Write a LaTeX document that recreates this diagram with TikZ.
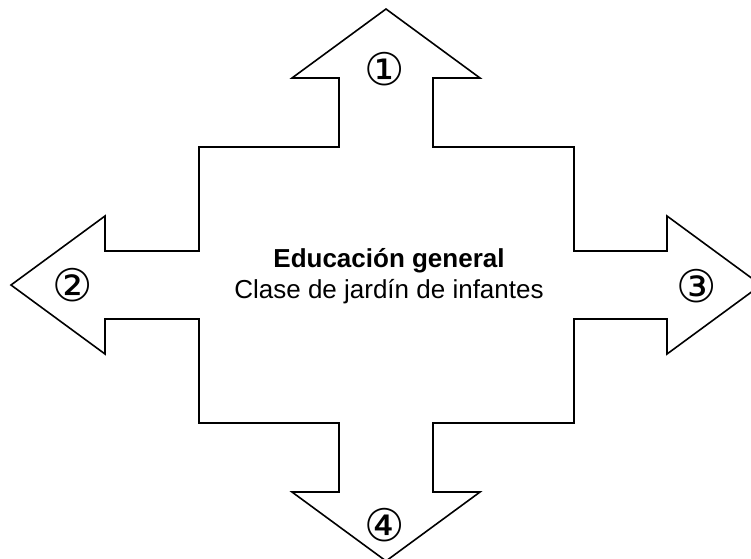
\documentclass[tikz,border=0pt]{standalone}
\usepackage{fontspec}
\setmainfont{Liberation Sans}
\newfontfamily\dejavu{DejaVu Sans}
\begin{document}
\begin{tikzpicture}[x=1pt,y=-1pt,
  outline/.style={draw=black,line width=1.6pt,line join=miter,fill=white},
  numlabel/.style={inner sep=0pt,anchor=center,font=\dejavu\fontsize{45}{45}\selectfont},
  titlelabel/.style={inner sep=0pt,anchor=base,font=\bfseries\fontsize{26}{31}\selectfont},
  sublabel/.style={inner sep=0pt,anchor=base,font=\fontsize{26}{31}\selectfont}]
\useasboundingbox (0,0) rectangle (751,558);
\clip (0,0) rectangle (751,558);
\fill[white] (0,0) rectangle (751,558);
\draw[outline] (386,9) -- (480,78) -- (433,78) -- (433,147) -- (574,147) -- (574,251)
  -- (667,251) -- (667,216) -- (761,285) -- (667,354) -- (667,319) -- (574,319)
  -- (574,423) -- (433,423) -- (433,492) -- (480,492) -- (386,561) -- (292,492)
  -- (339,492) -- (339,423) -- (199,423) -- (199,319) -- (105,319) -- (105,354)
  -- (11,285) -- (105,216) -- (105,251) -- (199,251) -- (199,147) -- (339,147)
  -- (339,78) -- (292,78) -- cycle;
\node[titlelabel] (title) at (389,267) {Educación general};
\node[sublabel] (sub) at (389,298) {Clase de jardín de infantes};
\node[numlabel] (n1) at (385,69) {①};
\node[numlabel] (n2) at (73,285) {②};
\node[numlabel] (n3) at (697,286) {③};
\node[numlabel] (n4) at (385,525) {④};
\end{tikzpicture}
\end{document}
